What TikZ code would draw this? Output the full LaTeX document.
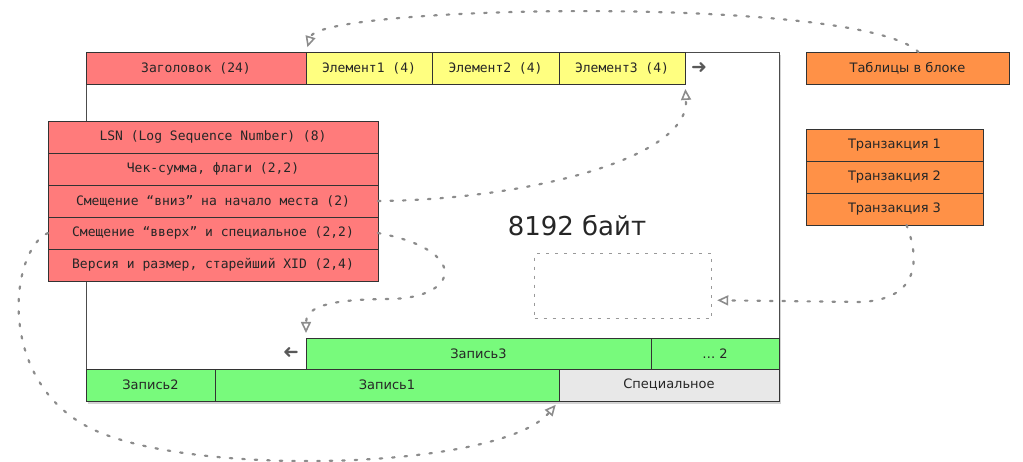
\documentclass[tikz,border=0pt]{standalone}
\usepackage{fontspec}
\setmainfont{DejaVu Sans}
\setmonofont{DejaVu Sans Mono}
\usetikzlibrary{arrows.meta, positioning, shadows}

\definecolor{hdrred}{HTML}{FF7B7B}
\definecolor{elyellow}{HTML}{FFFF80}
\definecolor{txorange}{HTML}{FF9147}
\definecolor{recgreen}{HTML}{78FA7C}
\definecolor{specgray}{HTML}{E8E8E8}
\definecolor{linkgray}{HTML}{8C8C8C}

\begin{document}
\begin{tikzpicture}[x=1pt, y=-1pt,
		>={Triangle[open, length=11pt, width=10pt, line width=1.6pt]},
		cell/.style={draw=black!80, line width=0.8pt, minimum height=32pt, inner sep=0pt, outer sep=0pt,
			anchor=north west, text=black!85, font=\ttfamily\fontsize{13}{15}\selectfont},
		sanscell/.style={cell, font=\rmfamily\fontsize{13}{15}\selectfont},
		page/.style={draw=black!70, line width=1.4pt, fill=white, inner sep=0pt, anchor=north west,
			drop shadow={opacity=.35, shadow xshift=1.5pt, shadow yshift=-2pt}},
		link/.style={->, linkgray, line width=2.2pt, dash pattern=on 2.5pt off 10pt, line cap=round, shorten >=5pt},
		pointer/.style={text=black!65, font=\fontsize{19}{19}\selectfont, inner sep=0pt}]
		\useasboundingbox (0,0) rectangle (1023,462);

		% the page
		\node[page, minimum width=693pt, minimum height=349pt] (page) at (86,52) {};

		% header and line pointers
		\node[cell, fill=hdrred, minimum width=220pt] (hdr) at (86,52) {Заголовок (24)};
		\node[cell, fill=elyellow, minimum width=126pt, right=0pt of hdr] (el1) {Элемент1 (4)};
		\node[cell, fill=elyellow, minimum width=127pt, right=0pt of el1] (el2) {Элемент2 (4)};
		\node[cell, fill=elyellow, minimum width=126pt, right=0pt of el2] (el3) {Элемент3 (4)};
		\node[pointer] (grow) at (699,68) {➜};

		% header fields
		\node[cell, fill=hdrred, minimum width=330pt] (lsn) at (48,121) {LSN (Log Sequence Number) (8)};
		\node[cell, fill=hdrred, minimum width=330pt, below=0pt of lsn] (csum) {Чек-сумма, флаги (2,2)};
		\node[cell, fill=hdrred, minimum width=330pt, below=0pt of csum] (lower) {Смещение “вниз” на начало места (2)};
		\node[cell, fill=hdrred, minimum width=330pt, below=0pt of lower] (upper) {Смещение “вверх” и специальное (2,2)};
		\node[cell, fill=hdrred, minimum width=330pt, below=0pt of upper] (ver) {Версия и размер, старейший XID (2,4)};

		% free space
		\node[draw=black!40, line width=1.2pt, dash pattern=on 3pt off 6pt, minimum width=177pt, minimum height=65pt,
			inner sep=0pt, anchor=north west] (free) at (534,253) {};
		\node[text=black!85, font=\fontsize{26}{30}\selectfont] (size) at (577,226) {8192 байт};

		% tuples and special space
		\node[sanscell, fill=recgreen, minimum width=345pt, minimum height=31pt] (rec3) at (306,338) {Запись3};
		\node[sanscell, fill=recgreen, minimum width=128pt, minimum height=31pt, right=0pt of rec3] (more) {… 2};
		\node[pointer, rotate=180] (shrink) at (291,352) {➜};
		\node[sanscell, fill=recgreen, minimum width=129pt] (rec2) at (86,369) {Запись2};
		\node[sanscell, fill=recgreen, minimum width=344pt, right=0pt of rec2] (rec1) {Запись1};
		\node[sanscell, fill=specgray, minimum width=220pt, right=0pt of rec1] (spec) {Специальное};

		% access methods and transactions
		\node[sanscell, fill=txorange, minimum width=203pt] (tbl) at (806,52) {Таблицы в блоке};
		\node[sanscell, fill=txorange, minimum width=177pt] (tr1) at (806,129) {Транзакция 1};
		\node[sanscell, fill=txorange, minimum width=177pt, below=0pt of tr1] (tr2) {Транзакция 2};
		\node[sanscell, fill=txorange, minimum width=177pt, below=0pt of tr2] (tr3) {Транзакция 3};

		\draw[link] ([xshift=11pt]tbl.north) .. controls (860,-5) and (320,5) .. (el1.north west);
		\draw[link] (lower.east) .. controls (520,200) and (690,160) .. (el3.south east);
		\draw[link] (upper.east) .. controls (470,250) and (460,298) .. (390,299)
			.. controls (320,299) and (306,310) .. (rec3.north west);
		\draw[link] ([xshift=12pt]tr3.south) .. controls (922,265) and (915,300) .. (860,302) -- (free.-9);
		\draw[link] (upper.west) .. controls (10,250) and (-5,380) .. (90,428)
			.. controls (190,478) and (500,470) .. (spec.south west);
	\end{tikzpicture}
\end{document}
